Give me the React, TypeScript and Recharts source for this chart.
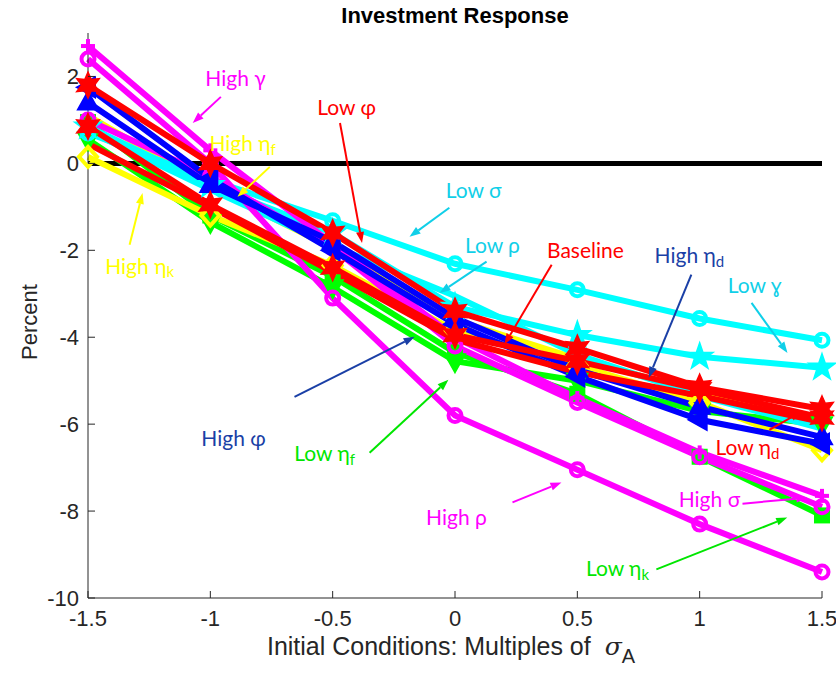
import React from 'react';
import { LineChart, Line, XAxis, YAxis, ReferenceLine, ReferenceDot } from 'recharts';

// initial conditions (multiples of sigma_A)
const xs = [-1.5, -1, -0.5, 0, 0.5, 1, 1.5];
const xTicks = [-1.5, -1, -0.5, 0, 0.5, 1, 1.5];
const yTicks = [-10, -8, -6, -4, -2, 0, 2];

// investment response, percent
const lowEtaK = [0.95, -1.2, -2.6, -4.35, -5.3, -6.75, -8.1];
const lowEtaF = [0.55, -1.35, -2.85, -4.55, -5.0, -5.7, -6.0];
const highEtaK = [0.15, -1.2, -2.35, -3.85, -4.65, -5.5, -6.6];
const highEtaF = [1.1, -0.55, -1.95, -3.6, -4.5, -5.25, -5.9];
const lowRho = [0.75, -0.6, -1.9, -3.05, -4.4, -5.35, -6.1];
const lowGamma = [0.85, -0.5, -1.6, -3.3, -3.95, -4.45, -4.7];
const lowSigma = [0.7, -0.38, -1.32, -2.31, -2.91, -3.57, -4.07];
const highSigma = [1.0, -0.3, -1.95, -4.2, -5.5, -6.75, -7.9];
const highRho = [2.4, 0.0, -3.1, -5.8, -7.05, -8.3, -9.4];
const highGamma = [2.7, 0.3, -1.85, -4.0, -5.4, -6.65, -7.65];
const highEtaD = [1.4, -0.5, -1.8, -3.55, -4.75, -5.6, -6.3];
const highPhi = [1.75, -0.35, -2.0, -3.7, -4.9, -5.9, -6.45];
const lowEtaD = [0.45, -1.0, -2.5, -4.05, -4.8, -5.35, -5.95];
const baseline = [0.85, -0.95, -2.4, -3.95, -4.55, -5.2, -5.85];
const lowPhi = [1.8, 0.0, -1.6, -3.4, -4.25, -5.15, -5.65];

const series = [
  { key: 'lowEtaK', color: '#00ff00', marker: 'square', values: lowEtaK },
  { key: 'lowEtaF', color: '#00ff00', marker: 'triDown', values: lowEtaF },
  { key: 'highEtaK', color: '#ffff00', marker: 'diamond', values: highEtaK },
  { key: 'highEtaF', color: '#ffff00', marker: 'none', values: highEtaF },
  { key: 'lowRho', color: '#00ffff', marker: 'none', values: lowRho },
  { key: 'lowGamma', color: '#00ffff', marker: 'pentagram', values: lowGamma },
  { key: 'lowSigma', color: '#00ffff', marker: 'circle', values: lowSigma },
  { key: 'highSigma', color: '#ff00ff', marker: 'circle', values: highSigma },
  { key: 'highRho', color: '#ff00ff', marker: 'circle', values: highRho },
  { key: 'highGamma', color: '#ff00ff', marker: 'plus', values: highGamma },
  { key: 'highEtaD', color: '#0000ff', marker: 'triUp', values: highEtaD },
  { key: 'highPhi', color: '#0000ff', marker: 'triLeft', values: highPhi },
  { key: 'lowEtaD', color: '#ff0000', marker: 'none', values: lowEtaD },
  { key: 'baseline', color: '#ff0000', marker: 'hexagram', values: baseline },
  { key: 'lowPhi', color: '#ff0000', marker: 'hexagram', values: lowPhi },
];

const data = xs.map((x, i) => {
  const row: Record<string, number> = { x };
  series.forEach((s) => {
    row[s.key] = s.values[i];
  });
  return row;
});

// annotations: label centre, arrow start and arrow tip (data units)
const notes = [
  { text: 'High γ', sub: '', color: '#ff00ff', at: [-0.897, 1.97], from: [-0.957, 1.53], to: [-1.072, 0.93] },
  { text: 'Low φ', sub: '', color: '#ff0000', at: [-0.443, 1.32], from: [-0.47, 0.93], to: [-0.38, -1.83] },
  { text: 'High η', sub: 'f', color: '#ffff00', at: [-0.868, 0.47], from: [-0.757, -0.08], to: [-0.889, -0.77] },
  { text: 'High η', sub: 'k', color: '#ffff00', at: [-1.289, -2.34], from: [-1.33, -1.87], to: [-1.277, -0.68] },
  { text: 'Low σ', sub: '', color: '#10cfe8', at: [0.076, -0.61], from: [-0.023, -1.02], to: [-0.186, -1.69] },
  { text: 'Low ρ', sub: '', color: '#10cfe8', at: [0.153, -1.87], from: [0.129, -2.26], to: [-0.063, -2.98] },
  { text: 'Baseline', sub: '', color: '#ff0000', at: [0.533, -1.99], from: [0.395, -2.33], to: [0.202, -4.17] },
  { text: 'High η', sub: 'd', color: '#1a3fa6', at: [0.958, -2.1], from: [0.966, -2.56], to: [0.792, -4.93] },
  { text: 'Low ɣ', sub: '', color: '#10cfe8', at: [1.224, -2.79], from: [1.212, -3.21], to: [1.359, -4.36] },
  { text: 'High φ', sub: '', color: '#1a3fa6', at: [-0.905, -6.31], from: [-0.656, -5.37], to: [-0.165, -3.99] },
  { text: 'Low η', sub: 'f', color: '#00e600', at: [-0.533, -6.66], from: [-0.349, -6.66], to: [-0.027, -4.98] },
  { text: 'High ρ', sub: '', color: '#ff00ff', at: [0.006, -8.13], from: [0.235, -7.8], to: [0.435, -7.34] },
  { text: 'Low η', sub: 'd', color: '#ff0000', at: [1.195, -6.52], from: [1.285, -6.13], to: [1.415, -5.71] },
  { text: 'High σ', sub: '', color: '#ff00ff', at: [1.04, -7.71], from: [1.175, -7.83], to: [1.44, -7.69] },
  { text: 'Low η', sub: 'k', color: '#00e600', at: [0.664, -9.3], from: [0.823, -9.34], to: [1.358, -8.15] },
];

const AXIS = '#262626';
const TICK_FONT = 'Liberation Sans, Arial, sans-serif';

function starPoints(cx: number, cy: number, n: number, ro: number, ri: number) {
  const pts: string[] = [];
  for (let i = 0; i < n * 2; i++) {
    const r = i % 2 === 0 ? ro : ri;
    const a = -Math.PI / 2 + (i * Math.PI) / n;
    pts.push(`${cx + r * Math.cos(a)},${cy + r * Math.sin(a)}`);
  }
  return pts.join(' ');
}

function Marker({ cx, cy, kind, color }: any) {
  if (cx == null || cy == null) return <g />;
  switch (kind) {
    case 'circle':
      return <circle cx={cx} cy={cy} r={6.5} fill="none" stroke={color} strokeWidth={4} />;
    case 'hexagram':
      return <polygon points={starPoints(cx, cy, 6, 13, 6.5)} fill={color} stroke={color} strokeWidth={1.5} />;
    case 'pentagram':
      return <polygon points={starPoints(cx, cy, 5, 14, 5.5)} fill={color} stroke={color} strokeWidth={1.5} />;
    case 'triUp':
      return <polygon points={`${cx},${cy - 11} ${cx + 10},${cy + 7} ${cx - 10},${cy + 7}`} fill={color} stroke={color} strokeWidth={2} />;
    case 'triDown':
      return <polygon points={`${cx},${cy + 11} ${cx + 10},${cy - 7} ${cx - 10},${cy - 7}`} fill={color} stroke={color} strokeWidth={2} />;
    case 'triLeft':
      return <polygon points={`${cx - 11},${cy} ${cx + 7},${cy - 10} ${cx + 7},${cy + 10}`} fill={color} stroke={color} strokeWidth={2} />;
    case 'diamond':
      return <polygon points={`${cx},${cy - 10} ${cx + 9},${cy} ${cx},${cy + 10} ${cx - 9},${cy}`} fill="none" stroke={color} strokeWidth={4} />;
    case 'square':
      return <rect x={cx - 7} y={cy - 7} width={14} height={14} fill={color} stroke={color} strokeWidth={2} />;
    case 'plus':
      return (
        <g stroke={color} strokeWidth={4}>
          <line x1={cx - 7} y1={cy} x2={cx + 7} y2={cy} />
          <line x1={cx} y1={cy - 7} x2={cx} y2={cy + 7} />
        </g>
      );
    default:
      return <g />;
  }
}

function Arrow({ x1, y1, x2, y2, color }: any) {
  const a = Math.atan2(y2 - y1, x2 - x1);
  const len = 11;
  const w = 4;
  const bx = x2 - len * Math.cos(a);
  const by = y2 - len * Math.sin(a);
  const px = w * Math.sin(a);
  const py = -w * Math.cos(a);
  return (
    <g>
      <line x1={x1} y1={y1} x2={bx} y2={by} stroke={color} strokeWidth={2} />
      <polygon points={`${x2},${y2} ${bx + px},${by + py} ${bx - px},${by - py}`} fill={color} />
    </g>
  );
}

function NoteText({ cx, cy, text, sub, color }: any) {
  return (
    <text x={cx} y={cy} textAnchor="middle" dominantBaseline="central" fill={color} fontSize={21} fontFamily="Lato, 'Open Sans', sans-serif">
      {text}
      {sub ? (
        <tspan fontSize={15} dy={6}>
          {sub}
        </tspan>
      ) : null}
    </text>
  );
}

const BottomTick = ({ x, y, payload }: any) => (
  <g>
    <line x1={x} y1={y} x2={x} y2={y - 7} stroke={AXIS} />
    <text x={x} y={y + 28} textAnchor="middle" fontSize={22} fill={AXIS} fontFamily={TICK_FONT}>
      {payload.value}
    </text>
  </g>
);

const TopTick = ({ x, y }: any) => <line x1={x} y1={y} x2={x} y2={y + 7} stroke={AXIS} />;

const LeftTick = ({ x, y, payload }: any) => (
  <g>
    <line x1={x} y1={y} x2={x + 7} y2={y} stroke={AXIS} />
    <text x={x - 9} y={y + 8} textAnchor="end" fontSize={22} fill={AXIS} fontFamily={TICK_FONT}>
      {payload.value}
    </text>
  </g>
);

const RightTick = ({ x, y }: any) => <line x1={x} y1={y} x2={x - 7} y2={y} stroke={AXIS} />;

export default function App() {
  return (
    <div style={{ position: 'absolute', left: 0, top: 0, width: 836, height: 675, background: '#fff' }}>
      <div
        style={{
          position: 'absolute',
          left: 88,
          width: 734,
          top: 3,
          textAlign: 'center',
          fontFamily: TICK_FONT,
          fontWeight: 'bold',
          fontSize: 22,
          lineHeight: '25px',
          color: '#000',
        }}
      >
        Investment Response
      </div>
      <LineChart width={836} height={675} data={data} margin={{ top: 33, right: 14, bottom: 47, left: 28 }}>
        <XAxis
          type="number"
          dataKey="x"
          domain={[-1.5, 1.5]}
          ticks={xTicks}
          interval={0}
          height={30}
          tickSize={0}
          tickMargin={0}
          tickLine={false}
          axisLine={{ stroke: AXIS }}
          tick={<BottomTick />}
        />
        <XAxis
          xAxisId="top"
          orientation="top"
          type="number"
          dataKey="x"
          domain={[-1.5, 1.5]}
          ticks={xTicks}
          interval={0}
          height={0}
          tickSize={0}
          tickMargin={0}
          tickLine={false}
          axisLine={{ stroke: AXIS }}
          tick={<TopTick />}
        />
        <YAxis
          type="number"
          domain={[-10, 3]}
          ticks={yTicks}
          interval={0}
          width={60}
          tickSize={0}
          tickMargin={0}
          tickLine={false}
          axisLine={{ stroke: AXIS }}
          tick={<LeftTick />}
        />
        <YAxis
          yAxisId="right"
          orientation="right"
          type="number"
          domain={[-10, 3]}
          ticks={yTicks}
          interval={0}
          width={0}
          tickSize={0}
          tickMargin={0}
          tickLine={false}
          axisLine={{ stroke: AXIS }}
          tick={<RightTick />}
        />
        <ReferenceLine y={0} stroke="#000" strokeWidth={5} />
        {series.map((s) => (
          <Line
            key={s.key}
            dataKey={s.key}
            stroke={s.color}
            strokeWidth={6}
            isAnimationActive={false}
            dot={(p: any) => <Marker key={`${s.key}-${p.index}`} cx={p.cx} cy={p.cy} kind={s.marker} color={s.color} />}
            activeDot={false}
          />
        ))}
        {notes.map((n, i) => (
          <ReferenceLine
            key={`arrow-${i}`}
            segment={[
              { x: n.from[0], y: n.from[1] },
              { x: n.to[0], y: n.to[1] },
            ]}
            shape={(p: any) => <Arrow x1={p.x1} y1={p.y1} x2={p.x2} y2={p.y2} color={n.color} />}
          />
        ))}
        {notes.map((n, i) => (
          <ReferenceDot
            key={`note-${i}`}
            x={n.at[0]}
            y={n.at[1]}
            r={0}
            shape={(p: any) => <NoteText cx={p.cx} cy={p.cy} text={n.text} sub={n.sub} color={n.color} />}
          />
        ))}
      </LineChart>
      <div
        style={{
          position: 'absolute',
          left: 30,
          top: 322,
          transform: 'translate(-50%, -50%) rotate(-90deg)',
          fontFamily: TICK_FONT,
          fontSize: 22,
          color: AXIS,
          whiteSpace: 'nowrap',
        }}
      >
        Percent
      </div>
      <div
        style={{
          position: 'absolute',
          left: 84,
          width: 734,
          top: 632,
          textAlign: 'center',
          fontFamily: TICK_FONT,
          fontSize: 25,
          color: AXIS,
          whiteSpace: 'nowrap',
        }}
      >
        Initial Conditions: Multiples of&nbsp;&nbsp;
        <span style={{ fontFamily: 'DejaVu Serif, serif', fontStyle: 'italic' }}>σ</span>
        <span style={{ fontSize: 20, position: 'relative', top: 8 }}>A</span>
      </div>
    </div>
  );
}
